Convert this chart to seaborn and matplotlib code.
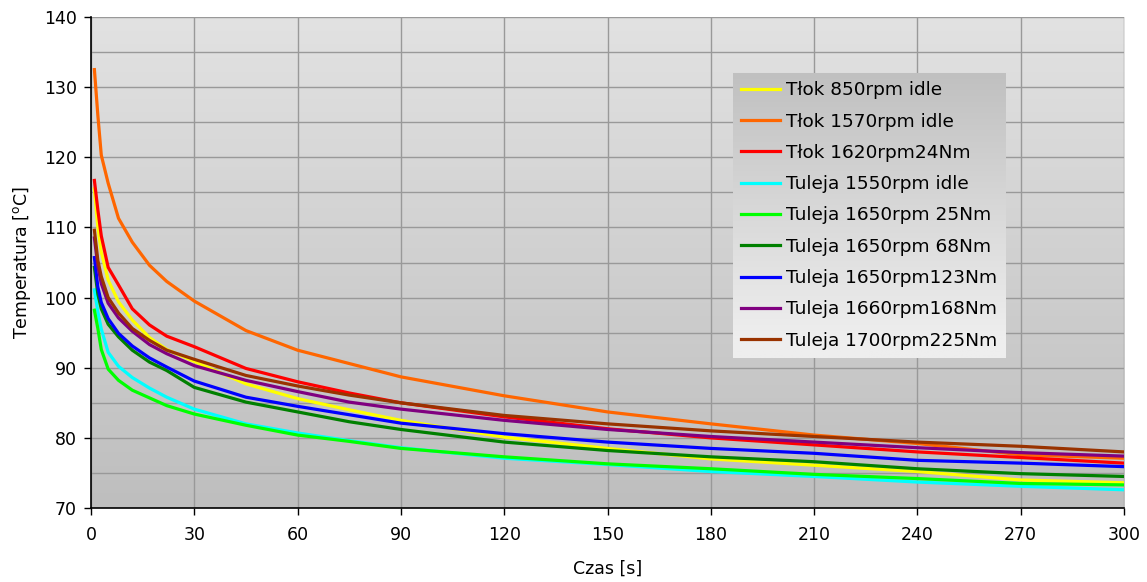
import numpy as np
import pandas as pd
import seaborn as sns
import matplotlib.pyplot as plt
from matplotlib.colors import LinearSegmentedColormap

# czas [s]
czas = [1, 2, 3, 5, 8, 12, 17, 22, 30, 45, 60, 75, 90, 120, 150, 180, 210, 240, 270, 300]

tlok_850 = [115.5, 110.0, 106.5, 102.5, 99.4, 96.8, 94.3, 92.6, 90.9, 87.7, 85.6, 84.0, 82.5, 80.1, 78.5, 77.0, 76.1, 75.2, 74.0, 73.6]
tlok_1570 = [132.5, 126.0, 120.3, 116.3, 111.3, 107.9, 104.6, 102.3, 99.5, 95.3, 92.5, 90.6, 88.7, 86.0, 83.7, 82.0, 80.4, 79.2, 77.6, 77.1]
tlok_1620 = [116.7, 112.5, 108.8, 104.3, 101.8, 98.4, 96.1, 94.5, 93.0, 89.9, 88.0, 86.4, 85.0, 83.0, 81.3, 80.0, 79.0, 78.0, 77.2, 76.4]
tul_1550 = [101.1, 98.0, 95.5, 92.2, 90.2, 88.6, 87.1, 85.8, 84.1, 82.0, 80.7, 79.6, 78.6, 77.1, 76.2, 75.2, 74.5, 73.7, 73.1, 72.6]
tul_1650_25 = [98.2, 95.6, 92.6, 89.8, 88.2, 86.8, 85.7, 84.6, 83.4, 81.8, 80.4, 79.5, 78.5, 77.3, 76.3, 75.6, 74.8, 74.2, 73.5, 73.3]
tul_1650_68 = [104.3, 100.5, 98.4, 96.2, 94.4, 92.5, 90.8, 89.6, 87.2, 85.1, 83.7, 82.3, 81.2, 79.4, 78.2, 77.3, 76.6, 75.6, 74.9, 74.5]
tul_1650_123 = [105.7, 101.5, 99.3, 97.0, 94.9, 93.1, 91.4, 90.1, 88.1, 85.8, 84.5, 83.3, 82.1, 80.6, 79.4, 78.5, 77.8, 76.8, 76.4, 75.9]
tul_1660 = [108.5, 104.5, 102.0, 99.2, 97.1, 95.2, 93.3, 92.0, 90.3, 88.2, 86.6, 85.1, 84.1, 82.5, 81.2, 80.2, 79.4, 78.6, 77.9, 77.4]
tul_1700 = [109.6, 105.3, 103.0, 100.0, 97.8, 95.6, 93.9, 92.5, 91.2, 88.9, 87.4, 86.1, 85.0, 83.2, 82.0, 81.0, 80.2, 79.4, 78.8, 78.0]

nazwy = ['Tłok 850rpm idle', 'Tłok 1570rpm idle', 'Tłok 1620rpm24Nm',
         'Tuleja 1550rpm idle', 'Tuleja 1650rpm 25Nm', 'Tuleja 1650rpm 68Nm',
         'Tuleja 1650rpm123Nm', 'Tuleja 1660rpm168Nm', 'Tuleja 1700rpm225Nm']
serie = [tlok_850, tlok_1570, tlok_1620, tul_1550, tul_1650_25, tul_1650_68,
         tul_1650_123, tul_1660, tul_1700]
kolory = ['#ffff00', '#ff6600', '#ff0000', '#00ffff', '#00ff00', '#008000',
          '#0000ff', '#800080', '#993300']

df = pd.concat([pd.DataFrame({'czas': czas, 'temp': s, 'seria': n})
                for n, s in zip(nazwy, serie)], ignore_index=True)

plt.rcParams['font.family'] = ['DejaVu Sans']
plt.rcParams['font.size'] = 12.5

fig = plt.figure(figsize=(11.47, 5.82), dpi=100)
ax = fig.add_axes([0.0793, 0.1271, 0.9007, 0.8437])

# gradient tla (jasny u gory, ciemniejszy u dolu)
grad = LinearSegmentedColormap.from_list('tlo', ['#e2e2e2', '#bebebe'])
ax.imshow(np.linspace(0, 1, 256).reshape(-1, 1), cmap=grad, aspect='auto',
          extent=[0, 300, 70, 140], origin='upper', zorder=0)

sns.lineplot(data=df, x='czas', y='temp', hue='seria', palette=kolory,
             linewidth=2.3, ax=ax, zorder=3)

ax.set_xlim(0, 300)
ax.set_ylim(70, 140)
ax.set_xticks(range(0, 301, 30))
ax.set_yticks(range(70, 141, 10))
ax.set_yticks(range(75, 140, 10), minor=True)
ax.tick_params(which='minor', length=0)
ax.tick_params(which='major', direction='out', length=5, width=1, color='black', labelsize=12.5)
ax.tick_params(axis='x', pad=8)
ax.tick_params(axis='y', pad=5)
ax.grid(True, which='both', axis='y', color='#999999', linewidth=1, zorder=1)
ax.grid(True, which='major', axis='x', color='#999999', linewidth=1, zorder=1)
ax.set_axisbelow(True)
for s in ['top', 'right']:
    ax.spines[s].set_visible(False)
for s in ['left', 'bottom']:
    ax.spines[s].set_color('black')
    ax.spines[s].set_linewidth(1.2)
    ax.spines[s].set_zorder(4)

ax.set_xlabel('Czas [s]', fontsize=12.5, labelpad=11)
ax.set_ylabel('Temperatura [$^\\mathregular{o}$C]', fontsize=12.5, labelpad=8)

leg_kw = dict(loc='upper left', borderaxespad=0, frameon=False, fontsize=13.3,
              handlelength=2.1, handletextpad=0.3, labelspacing=0.72, borderpad=0.45)
leg = ax.legend(bbox_to_anchor=(0.6215, 0.886), **leg_kw)

# gradient pod legenda (ciemny u gory, jasny u dolu)
fig.canvas.draw()
bb = leg.get_window_extent().transformed(fig.transFigure.inverted())
lax = fig.add_axes([bb.x0, bb.y0, bb.width, bb.height], zorder=ax.get_zorder() + 0.5)
lgrad = LinearSegmentedColormap.from_list('leg', ['#c0c0c0', '#eeeeee'])
lax.imshow(np.concatenate([np.linspace(0, 1, 128), np.ones(10)]).reshape(-1, 1),
           cmap=lgrad, aspect='auto')
lax.axis('off')
handles, labels = ax.get_legend_handles_labels()
ax.get_legend().remove()
lleg = lax.legend(handles, labels, bbox_to_anchor=(0, 1), **leg_kw)
for h in lleg.get_lines():
    h.set_linewidth(2.3)

fig.savefig('out.png', dpi=100)
